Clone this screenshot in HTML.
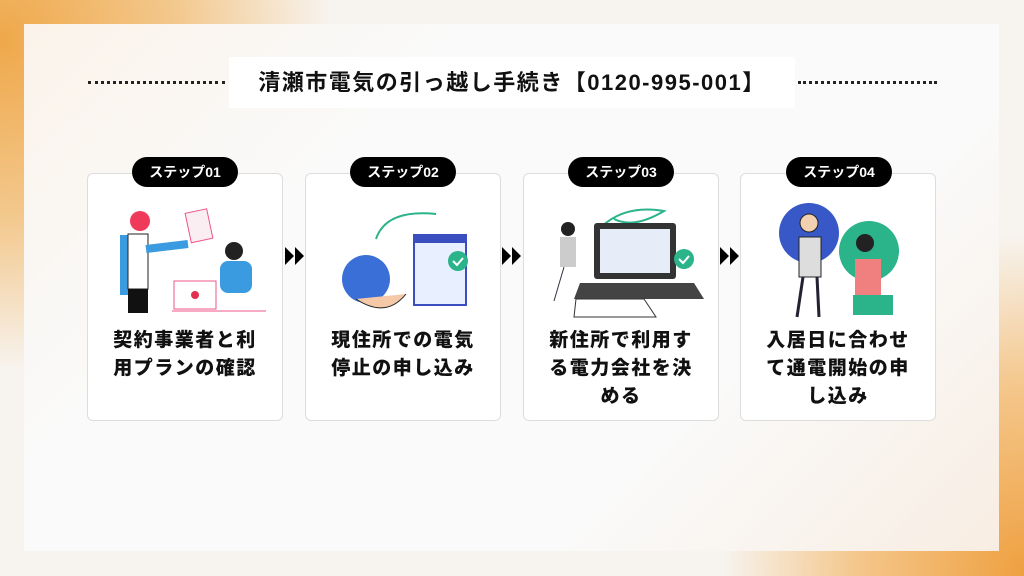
<!DOCTYPE html>
<html><head><meta charset="utf-8"><style>
body{margin:0;width:1024px;height:576px;overflow:hidden;position:relative;font-family:"Liberation Sans","Noto Sans CJK JP",sans-serif;
background:radial-gradient(ellipse 330px 330px at 0px 40px,#efa84a 0%,#f3c98f 55%,rgba(250,240,225,0) 100%),
radial-gradient(ellipse 300px 340px at 1024px 576px,#efa040 0%,#f4c68a 55%,rgba(250,240,225,0) 100%),#f7f3ee;}
.panel{position:absolute;left:24px;top:24px;width:975px;height:527px;background:linear-gradient(135deg,#fbf3ea 0%,#fafafa 30%,#fafafa 70%,#f8ede2 100%);}
.title{position:absolute;left:229px;top:57px;width:566px;height:51px;background:#fff;font-size:22px;font-weight:bold;color:#111;text-align:center;line-height:51px;letter-spacing:1.5px;white-space:nowrap}
.dots{position:absolute;top:81px;height:0;border-top:3px dotted #222}
.card{position:absolute;top:173px;width:196px;height:248px;background:#fff;border:1px solid #ddd;border-radius:6px;box-sizing:border-box}
.pill{position:absolute;top:157px;width:106px;height:30px;background:#000;color:#fff;border-radius:15px;font-size:14px;font-weight:bold;text-align:center;line-height:30px}
.txt{position:absolute;top:153px;left:0;width:100%;text-align:center;font-size:19px;font-weight:900;line-height:28px;color:#111;letter-spacing:1.5px}
.arr{position:absolute;top:247px}
svg.ill{position:absolute;top:25px;left:20px}
</style></head><body>
<div class="panel"></div>
<div class="dots" style="left:88px;width:137px"></div>
<div class="dots" style="left:798px;width:139px"></div>
<div class="title">清瀬市電気の引っ越し手続き【0120-995-001】</div>

<div class="card" style="left:87px"><svg class="ill" width="160" height="120">
<rect x="12" y="36" width="26" height="60" fill="#3b9be0"/><rect x="20" y="35" width="20" height="55" fill="#fff" stroke="#222"/><rect x="20" y="90" width="20" height="24" fill="#111"/><circle cx="32" cy="22" r="10" fill="#f03a5a"/><line x1="38" y1="50" x2="80" y2="45" stroke="#3b9be0" stroke-width="8"/><rect x="80" y="12" width="22" height="30" fill="#fbeef3" stroke="#e58" transform="rotate(-12 90 27)"/>
<circle cx="126" cy="52" r="9" fill="#222"/><rect x="112" y="62" width="32" height="32" rx="8" fill="#3b9be0"/><rect x="66" y="82" width="42" height="28" fill="#fff" stroke="#e58"/><circle cx="87" cy="96" r="4" fill="#e03050"/><line x1="64" y1="112" x2="158" y2="112" stroke="#e58"/></svg>
<div class="txt">契約事業者と利<br>用プランの確認</div></div>
<div class="pill" style="left:132px">ステップ01</div>

<div class="card" style="left:305px"><svg class="ill" width="160" height="120">
<path d="M50 40 Q60 10 110 15" stroke="#2bb38a" stroke-width="2" fill="none"/><circle cx="40" cy="80" r="24" fill="#3b6fd8"/><path d="M30 100 Q60 120 80 95" fill="#f5c9a8" stroke="#222"/><rect x="88" y="36" width="52" height="70" fill="#e8efff" stroke="#3a4ec0" stroke-width="2"/><rect x="88" y="36" width="52" height="8" fill="#3a4ec0"/><circle cx="132" cy="62" r="10" fill="#2bb38a"/><path d="M127 62l4 4 6-7" stroke="#fff" stroke-width="2" fill="none"/></svg>
<div class="txt">現住所での電気<br>停止の申し込み</div></div>
<div class="pill" style="left:350px">ステップ02</div>

<div class="card" style="left:523px"><svg class="ill" width="160" height="120">
<path d="M55 30 Q80 5 120 12 Q90 30 70 20" stroke="#2bb38a" stroke-width="2" fill="none"/><circle cx="24" cy="30" r="7" fill="#222"/><rect x="16" y="38" width="16" height="30" fill="#ccc"/><line x1="20" y1="68" x2="10" y2="102" stroke="#334"/><rect x="50" y="24" width="82" height="56" rx="3" fill="#333"/><rect x="56" y="30" width="70" height="44" fill="#e6ecf8"/><path d="M36 84 L150 84 L160 100 L30 100Z" fill="#444"/><path d="M32 100 L100 100 L112 118 L30 118Z" fill="#fff" stroke="#333"/><circle cx="140" cy="60" r="10" fill="#2bb38a"/><path d="M135 60l4 4 6-7" stroke="#fff" stroke-width="2" fill="none"/></svg>
<div class="txt">新住所で利用す<br>る電力会社を決<br>める</div></div>
<div class="pill" style="left:568px">ステップ03</div>

<div class="card" style="left:740px"><svg class="ill" width="160" height="120">
<circle cx="48" cy="34" r="30" fill="#3858c8"/><circle cx="108" cy="52" r="30" fill="#2bb38a"/><circle cx="48" cy="24" r="9" fill="#f3d0b0" stroke="#222"/><rect x="38" y="38" width="22" height="40" fill="#ddd" stroke="#222"/><line x1="42" y1="78" x2="36" y2="118" stroke="#223" stroke-width="3"/><line x1="56" y1="78" x2="58" y2="118" stroke="#223" stroke-width="3"/><circle cx="104" cy="44" r="9" fill="#222"/><rect x="94" y="60" width="26" height="36" fill="#f08080"/><rect x="92" y="96" width="40" height="20" fill="#2bb38a"/></svg>
<div class="txt">入居日に合わせ<br>て通電開始の申<br>し込み</div></div>
<div class="pill" style="left:786px">ステップ04</div>

<svg class="arr" style="left:285px" width="20" height="18"><path d="M0 0L9 9L0 18ZM10 0L19 9L10 18Z" fill="#000"/></svg>
<svg class="arr" style="left:502px" width="20" height="18"><path d="M0 0L9 9L0 18ZM10 0L19 9L10 18Z" fill="#000"/></svg>
<svg class="arr" style="left:720px" width="20" height="18"><path d="M0 0L9 9L0 18ZM10 0L19 9L10 18Z" fill="#000"/></svg>
</body></html>
